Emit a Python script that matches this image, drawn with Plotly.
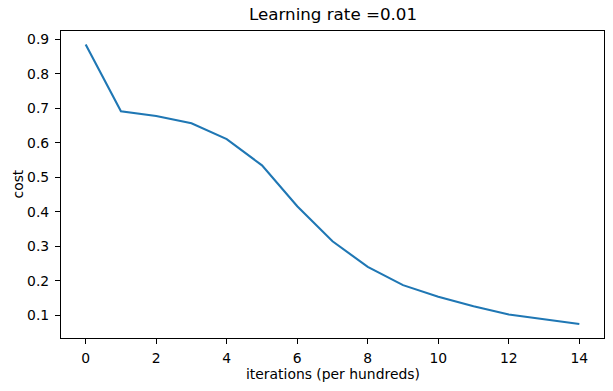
import plotly.graph_objects as go

iterations = list(range(15))
cost = [0.885, 0.692, 0.678, 0.657, 0.611, 0.535, 0.4165, 0.315, 0.241, 0.188,
        0.154, 0.127, 0.103, 0.0885, 0.0755]
x_ticks = [0, 2, 4, 6, 8, 10, 12, 14]
y_ticks = [0.1, 0.2, 0.3, 0.4, 0.5, 0.6, 0.7, 0.8, 0.9]

FONT = "DejaVu Sans"

fig = go.Figure()
fig.add_trace(go.Scatter(x=iterations, y=cost, mode="lines",
                         line=dict(color="#1f77b4", width=2.1)))

axis_common = dict(showline=True, linecolor="black", linewidth=1.1, mirror=True,
                   ticks="outside", ticklen=5, tickwidth=1.1, tickcolor="black",
                   showgrid=False, zeroline=False, automargin=False,
                   tickfont=dict(family=FONT, size=13.9, color="black"))

fig.update_layout(
    width=613, height=391,
    margin=dict(l=61, r=9, t=31, b=53, autoexpand=False),
    paper_bgcolor="white", plot_bgcolor="white",
    showlegend=False,
    xaxis=dict(range=[-0.7, 14.7], tickvals=x_ticks,
               ticktext=[str(v) for v in x_ticks], ticklabelstandoff=2, **axis_common),
    yaxis=dict(range=[0.0348, 0.9244], tickvals=y_ticks,
               ticktext=[f"{v:.1f}" for v in y_ticks], ticklabelstandoff=3, **axis_common),
    annotations=[
        dict(text="Learning rate =0.01", xref="paper", yref="paper", x=0.5, y=1,
             xanchor="center", yanchor="bottom", yshift=5, showarrow=False,
             font=dict(family=FONT, size=16.7, color="black")),
        dict(text="iterations (per hundreds)", xref="paper", yref="paper", x=0.5, y=0,
             xanchor="center", yanchor="middle", yshift=-36, showarrow=False,
             font=dict(family=FONT, size=13.9, color="black")),
        dict(text="cost", xref="paper", yref="paper", x=0, y=0.5, textangle=-90,
             xanchor="center", yanchor="middle", xshift=-44, showarrow=False,
             font=dict(family=FONT, size=13.9, color="black")),
    ],
)

fig.write_html("out.html", config={"displayModeBar": False},
               post_script="document.body.style.margin='0';document.body.style.padding='0';")
